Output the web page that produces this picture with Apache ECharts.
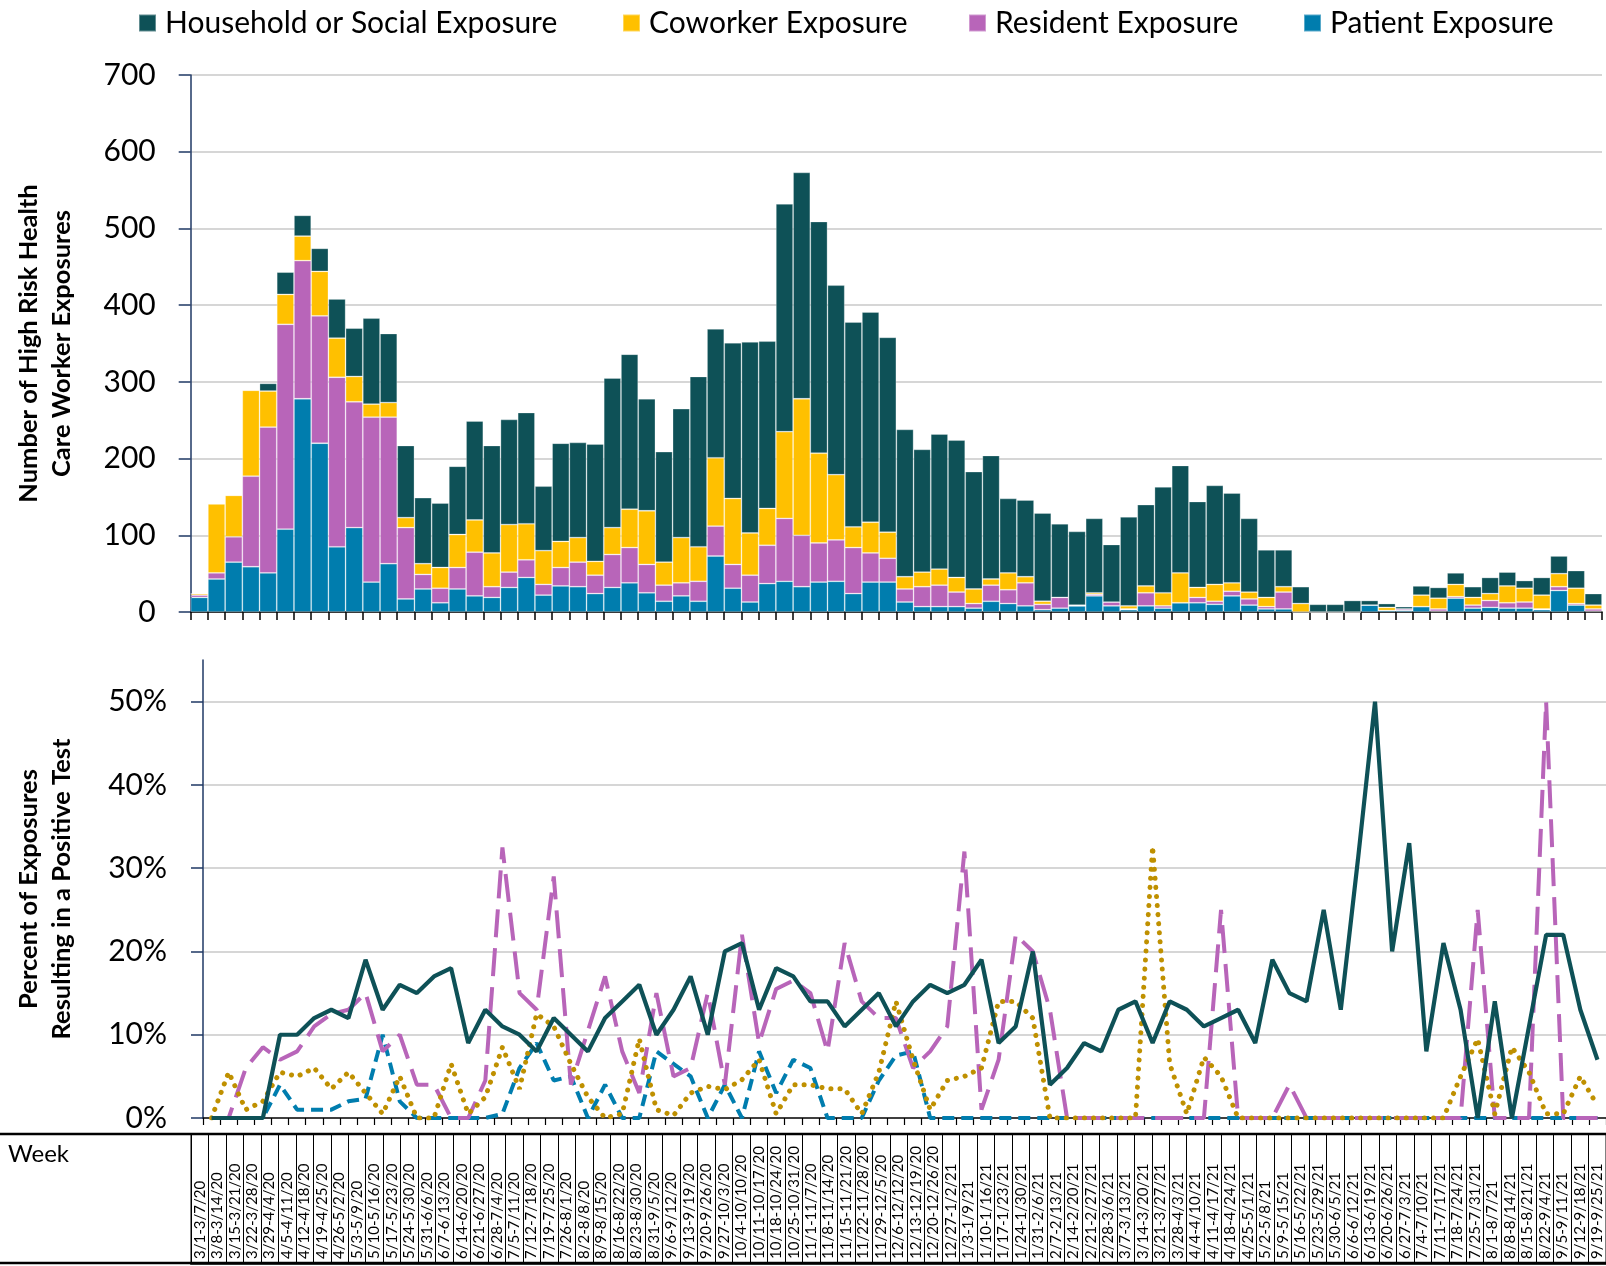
<!DOCTYPE html>
<html><head><meta charset="utf-8">
<script src="https://cdn.jsdelivr.net/npm/echarts@6/dist/echarts.min.js"></script>
<style>html,body{margin:0;padding:0;background:#fff}#c{width:1606px;height:1266px}</style>
</head><body><div id="c"></div>
<script>
// Week start dates of the weekly data points (82 weeks)
const weekStarts = ['3/1/20','3/8/20','3/15/20','3/22/20','3/29/20','4/5/20','4/12/20','4/19/20','4/26/20','5/3/20','5/10/20','5/17/20','5/24/20','5/31/20','6/7/20','6/14/20','6/21/20','6/28/20','7/5/20','7/12/20','7/19/20','7/26/20','8/2/20','8/9/20','8/16/20','8/23/20','8/30/20','9/6/20','9/13/20','9/20/20','9/27/20','10/4/20','10/11/20','10/18/20','10/25/20','11/1/20','11/8/20','11/15/20','11/22/20','11/29/20','12/6/20','12/13/20','12/20/20','12/27/20',
'1/3/21','1/10/21','1/17/21','1/24/21','1/31/21','2/7/21','2/14/21','2/21/21','2/28/21','3/7/21','3/14/21','3/21/21','3/28/21','4/4/21','4/11/21','4/18/21','4/25/21','5/2/21','5/9/21','5/16/21','5/23/21','5/30/21','6/6/21','6/13/21','6/20/21','6/27/21','7/4/21','7/11/21','7/18/21','7/25/21','8/1/21','8/8/21','8/15/21','8/22/21','8/29/21','9/5/21','9/12/21','9/19/21'];

// Week labels printed in the table below the chart
const tableWeeks = ['3/1-3/7/20','3/8-3/14/20','3/15-3/21/20','3/22-3/28/20','3/29-4/4/20','4/5-4/11/20','4/12-4/18/20','4/19-4/25/20','4/26-5/2/20','5/3-5/9/20','5/10-5/16/20','5/17-5/23/20','5/24-5/30/20','5/31-6/6/20','6/7-6/13/20','6/14-6/20/20','6/21-6/27/20','6/28-7/4/20','7/5-7/11/20','7/12-7/18/20','7/19-7/25/20','7/26-8/1/20','8/2-8/8/20','8/9-8/15/20','8/16-8/22/20','8/23-8/30/20','8/31-9/5/20','9/6-9/12/20','9/13-9/19/20','9/20-9/26/20','9/27-10/3/20','10/4-10/10/20','10/11-10/17/20','10/18-10/24/20','10/25-10/31/20','11/1-11/7/20','11/8-11/14/20','11/15-11/21/20','11/22-11/28/20','11/29-12/5/20','12/6-12/12/20','12/13-12/19/20','12/20-12/26/20','12/27-1/2/21',
'1/3-1/9/21','1/10-1/16/21','1/17-1/23/21','1/24-1/30/21','1/31-2/6/21','2/7-2/13/21','2/14-2/20/21','2/21-2/27/21','2/28-3/6/21','3/7-3/13/21','3/14-3/20/21','3/21-3/27/21','3/28-4/3/21','4/4-4/10/21','4/11-4/17/21','4/18-4/24/21','4/25-5/1/21','5/2-5/8/21','5/9-5/15/21','5/16-5/22/21','5/23-5/29/21','5/30-6/5/21','6/6-6/12/21','6/13-6/19/21','6/20-6/26/21','6/27-7/3/21','7/4-7/10/21','7/11-7/17/21','7/18-7/24/21','7/25-7/31/21','8/1-8/7/21','8/8-8/14/21','8/15-8/21/21','8/22-9/4/21','9/5-9/11/21','9/12-9/18/21','9/19-9/25/21'];

const seriesNames = ['Household or Social Exposure','Coworker Exposure','Resident Exposure','Patient Exposure'];

// Number of exposures per week
const patientCount = [19,43,65,59,51,108,278,220,85,110,39,63,17,30,12,30,21,19,32,45,22,34,33,24,32,38,25,14,21,14,73,31,13,37,40,33,39,40,24,39,39,13,7,7,7,5,14,11,8,3,5,8,21,8,3,8,5,12,12,10,21,9,4,4,0,0,0,0,9,2,2,7,1,18,5,6,5,5,3,28,9,1];
const residentCount = [3,8,33,118,190,267,180,166,221,164,215,191,93,19,19,28,57,14,20,23,14,24,32,24,43,46,37,21,17,26,39,31,35,50,82,67,51,54,60,38,31,17,26,28,19,6,21,18,30,7,14,0,2,5,1,17,3,0,7,4,6,8,3,22,0,0,0,0,0,0,2,0,3,2,4,9,7,8,1,5,2,3];
const coworkerCount = [2,90,54,112,47,39,32,58,51,33,17,19,13,14,27,43,42,44,62,47,44,34,32,18,35,50,70,30,59,45,89,86,55,48,113,178,117,85,27,40,34,16,19,21,19,19,8,22,8,4,0,1,2,0,4,9,17,39,13,22,11,9,12,7,11,0,0,0,0,4,0,15,14,16,10,9,22,18,18,17,20,5];
const householdCount = [0,0,0,1,10,29,27,30,51,63,112,90,94,86,84,89,129,140,137,145,84,128,124,153,195,202,146,144,168,222,168,203,249,218,297,295,302,247,267,274,254,192,160,176,179,153,161,97,100,115,96,96,97,75,116,106,138,140,112,129,117,96,62,48,22,10,10,15,6,5,3,12,14,15,14,21,18,10,23,23,23,15];

// Percent of exposures resulting in a positive test
const pctHousehold = [0,0,0,0,10,10,12,13,12,19,13,16,15,17,18,9,13,11,10,8,12,10,8,12,14,16,10,13,17,10,20,21,13,18,17,14,14,11,13,15,11,14,16,15,16,19,9,11,20,4,6,9,8,13,14,9,14,13,11,12,13,9,19,15,14,25,13,31,50,20,33,8,21,13,0,14,0,11,22,22,13,7];
const pctCoworker = [0,5.5,1,2,5.5,5,6,3.5,5.5,3,0.5,5,0,0,6.5,0.5,2.5,8.5,3.5,12.5,11,6.5,2.5,0,0.5,9.5,1,0.3,3,3.8,3.4,4.6,7,0.5,4,4,3.5,3.5,0.5,5.5,14,7,1,4.5,5,6,14,14,12,0,0,0,0,0,0,32.6,6.5,0.5,7.3,5,0,0,0,0,0,0,0,0,0,0,0,0,0,5,9.5,0.5,8.5,5.5,0.5,0.5,5,1.5];
const pctResident = [0,0,6,8.5,7,8,11,12.5,13,15,8,10,4,4,0,0,4.5,32.5,15,13,29,4,10.5,17,8,3,15,5,6,15,4,22,9,15.5,16.5,15,8,21,14,12,12,6,8,11,32,1,7,22,20,13,0,0,0,0,0,0,0,0,0,25,0,0,0,4,0,0,0,0,0,0,0,0,0,0,25,0,0,0,50,0,0,0];
const pctPatient = [0,0,0,0,4,1,1,1,2,2.3,10,2,0,0,0,0,0,0.5,6,9,4.5,5,0,4,0,0,8,6.5,5,0,4,0,8,3,7,6,0,0,0,4.5,7.5,8,0,0,0,0,0,0,0,0,0,0,0,0,0,0,0,0,0,0,0,0,0,0,0,0,0,0,0,0,0,0,0,0,0,0,0,0,0,0,0,0];

const pctTicks = [0,10,20,30,40,50];

const C = {household:'#0E5157', coworker:'#FFC000', resident:'#B865B9', patient:'#007DAE', dots:'#BF9000', axis:'#1F3864', grid:'#C8C8C8'};
const FONT = 'Lato';

const chart = echarts.init(document.getElementById('c'), null, {renderer:'canvas'});

function legendAt(name, left) {
  return {data:[name], left:left, top:8, padding:0, icon:'rect', itemWidth:17, itemHeight:17,
    selectedMode:false,
    textStyle:{fontSize:30, fontFamily:FONT, color:'#000', padding:[0,0,0,4]}};
}
const barStyle = (c)=>({color:c, borderColor:'rgba(255,255,255,0.35)', borderWidth:0.8});

const option = {
  animation:false,
  backgroundColor:'#fff',
  textStyle:{fontFamily:FONT},
  legend:[legendAt(seriesNames[0],138), legendAt(seriesNames[1],622), legendAt(seriesNames[2],968), legendAt(seriesNames[3],1303)],
  grid:[
    {left:190.7, right:4, top:75, height:537},
    {left:203, right:-9, top:660, height:458},
    {left:191, right:0, top:1134, height:129, show:true, borderColor:'#000', borderWidth:1}
  ],
  xAxis:[
    {type:'category', gridIndex:0, data:weekStarts, boundaryGap:true,
     axisLine:{lineStyle:{color:'#000', width:1.5}},
     axisTick:{show:true, interval:0, length:8, lineStyle:{color:'#000', width:1.5}},
     axisLabel:{show:false}, splitLine:{show:false}},
    {type:'category', gridIndex:1, data:weekStarts, boundaryGap:true,
     axisLine:{lineStyle:{color:'#000', width:1.5}},
     axisTick:{show:true, interval:0, length:7, lineStyle:{color:'#000', width:1.2}},
     axisLabel:{show:false}, splitLine:{show:false}},
    {type:'category', gridIndex:2, data:tableWeeks, boundaryGap:true, position:'bottom',
     axisLine:{show:true, lineStyle:{color:'#000', width:2.5}},
     axisTick:{show:false},
     axisLabel:{show:true, interval:0, rotate:90, inside:true, margin:4, fontSize:15, fontFamily:FONT, color:'#000'},
     splitLine:{show:true, interval:0, lineStyle:{color:'#000', width:1}}}
  ],
  yAxis:[
    {type:'value', gridIndex:0, min:0, max:700, interval:100,
     name:'Number of High Risk Health\nCare Worker Exposures', nameLocation:'middle', nameRotate:90, nameGap:112,
     nameTextStyle:{fontSize:25.5, fontWeight:'bold', fontFamily:FONT, color:'#000', lineHeight:33, align:'center'},
     axisLine:{show:true, lineStyle:{color:C.axis, width:1.5}},
     axisTick:{show:true, length:12, lineStyle:{color:C.axis, width:1.5}},
     axisLabel:{fontSize:30, fontFamily:FONT, color:'#000', margin:35},
     splitLine:{show:true, lineStyle:{color:C.grid, width:1.5}}},
    {type:'value', gridIndex:1, min:0, max:55, interval:10,
     name:'Percent of Exposures\nResulting in a Positive Test', nameLocation:'middle', nameRotate:90, nameGap:125,
     nameTextStyle:{fontSize:25.5, fontWeight:'bold', fontFamily:FONT, color:'#000', lineHeight:33, align:'center'},
     axisLine:{show:true, lineStyle:{color:C.axis, width:1.5}},
     axisTick:{show:true, length:12, customValues:pctTicks, lineStyle:{color:C.axis, width:1.5}},
     axisLabel:{fontSize:30, fontFamily:FONT, color:'#000', margin:36, customValues:pctTicks, formatter:'{value}%'},
     splitLine:{show:true, showMinLine:false, lineStyle:{color:C.grid, width:1.5}}},
    {type:'value', gridIndex:2, show:false, min:0, max:1}
  ],
  series:[
    {name:seriesNames[3], type:'bar', stack:'total', xAxisIndex:0, yAxisIndex:0, data:patientCount, barCategoryGap:'0%', itemStyle:barStyle(C.patient)},
    {name:seriesNames[2], type:'bar', stack:'total', xAxisIndex:0, yAxisIndex:0, data:residentCount, barCategoryGap:'0%', itemStyle:barStyle(C.resident)},
    {name:seriesNames[1], type:'bar', stack:'total', xAxisIndex:0, yAxisIndex:0, data:coworkerCount, barCategoryGap:'0%', itemStyle:barStyle(C.coworker)},
    {name:seriesNames[0], type:'bar', stack:'total', xAxisIndex:0, yAxisIndex:0, data:householdCount, barCategoryGap:'0%', itemStyle:barStyle(C.household)},
    {name:'Patient %', type:'line', xAxisIndex:1, yAxisIndex:1, data:pctPatient, showSymbol:false, symbol:'none',
     lineStyle:{color:C.patient, width:4, type:[12,7]}},
    {name:'Resident %', type:'line', xAxisIndex:1, yAxisIndex:1, data:pctResident, showSymbol:false, symbol:'none',
     lineStyle:{color:C.resident, width:4, type:[28,11]}},
    {name:'Coworker %', type:'line', xAxisIndex:1, yAxisIndex:1, data:pctCoworker, showSymbol:false, symbol:'none',
     lineStyle:{color:C.dots, width:5, type:[0.1,9], cap:'round'}},
    {name:'Household %', type:'line', xAxisIndex:1, yAxisIndex:1, data:pctHousehold, showSymbol:false, symbol:'none',
     lineStyle:{color:C.household, width:4.2}}
  ],
  graphic:[
    {type:'line', shape:{x1:0, y1:1134, x2:1606, y2:1134}, style:{stroke:'#000', lineWidth:2.5}, z:100},
    {type:'line', shape:{x1:0, y1:1263, x2:1606, y2:1263}, style:{stroke:'#000', lineWidth:2.5}, z:100},
    {type:'text', left:8, top:1142, style:{text:'Week', font:'24px Lato', fill:'#000'}}
  ]
};
chart.setOption(option);
</script>
</body></html>
